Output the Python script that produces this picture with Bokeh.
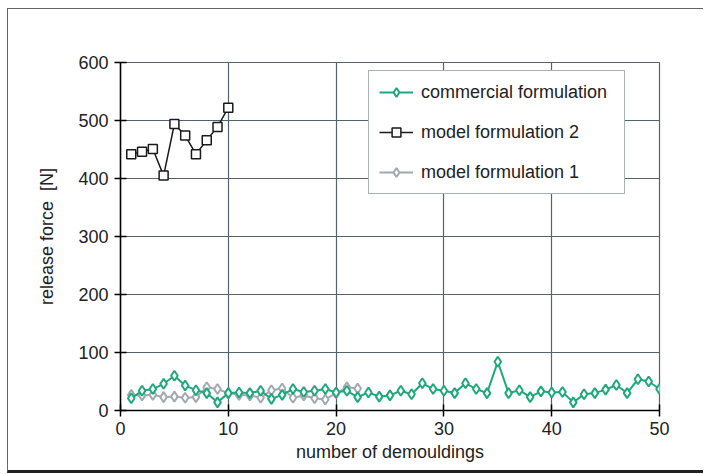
from bokeh.plotting import figure
from bokeh.models import Range1d, FixedTicker, Legend
from bokeh.embed import file_html
from bokeh.resources import INLINE

# data
x_comm = list(range(1, 51))
y_comm = [21, 34, 37, 46, 60, 43, 35, 30, 14, 30,
          31, 30, 34, 20, 27, 37, 32, 34, 37, 31,
          34, 23, 31, 24, 26, 34, 28, 47, 37, 34,
          30, 47, 37, 30, 84, 30, 35, 23, 33, 31,
          32, 14, 28, 30, 36, 44, 30, 54, 50, 37]
x_m2 = list(range(1, 11))
y_m2 = [442, 446, 451, 405, 494, 474, 442, 466, 489, 522]
x_m1 = list(range(1, 23))
y_m1 = [27, 26, 27, 23, 24, 22, 23, 40, 37, 30,
        27, 26, 22, 35, 38, 22, 26, 21, 19, 30, 40, 38]
x_ticks = [0, 10, 20, 30, 40, 50]
y_ticks = [0, 100, 200, 300, 400, 500, 600]

FONT = "Liberation Sans"
GREEN = "#1ea97a"
GRAY = "#a3a9b0"
BLACK = "#1a1a1a"
GRID = "#55646c"

p = figure(width=696, height=465, output_backend="svg", toolbar_location=None,
           x_range=Range1d(0, 50), y_range=Range1d(0, 600),
           min_border_left=112, min_border_right=45, min_border_top=53,
           min_border_bottom=64)
p.margin = (8, 0, 0, 7)
p.styles = {"border-left": "1px solid #666", "border-top": "1px solid #666",
            "border-bottom": "3px solid #222"}

p.outline_line_color = GRID
p.outline_line_width = 1.2

for ax, ticks in ((p.xaxis, x_ticks), (p.yaxis, y_ticks)):
    ax.ticker = FixedTicker(ticks=ticks)
    ax.axis_line_color = "black"
    ax.axis_line_width = 1.5
    ax.major_tick_line_color = "black"
    ax.major_tick_line_width = 1.5
    ax.major_tick_in = 6
    ax.major_tick_out = 6
    ax.minor_tick_line_color = None
    ax.major_label_text_font = FONT
    ax.major_label_text_font_size = "18px"
    ax.major_label_text_color = "#222222"
    ax.axis_label_text_font = FONT
    ax.axis_label_text_font_size = "18px"
    ax.axis_label_text_font_style = "normal"
    ax.axis_label_text_color = "#222222"

p.xaxis.axis_label = "number of demouldings"
p.yaxis.axis_label = "release force \u00a0[N]"
p.xaxis.major_label_standoff = 5
p.yaxis.major_label_standoff = 6
p.xaxis.axis_label_standoff = 4
p.yaxis.axis_label_standoff = 18

p.xgrid.ticker = FixedTicker(ticks=x_ticks)
p.ygrid.ticker = FixedTicker(ticks=y_ticks)
p.grid.grid_line_color = GRID
p.grid.grid_line_width = 1.2

# series
l1 = p.line(x_m1, y_m1, line_color=GRAY, line_width=2)
s1 = p.scatter(x_m1, y_m1, marker="diamond", size=10, line_color=GRAY,
               line_width=2, fill_color="white")
l3 = p.line(x_comm, y_comm, line_color=GREEN, line_width=2)
s3 = p.scatter(x_comm, y_comm, marker="diamond", size=10, line_color=GREEN,
               line_width=2, fill_color="white")
l2 = p.line(x_m2, y_m2, line_color=BLACK, line_width=1.5)
s2 = p.scatter(x_m2, y_m2, marker="square", size=9, line_color=BLACK,
               line_width=1.5, fill_color="white")

legend = Legend(items=[("commercial formulation", [l3, s3]),
                       ("model formulation 2", [l2, s2]),
                       ("model formulation 1", [l1, s1])],
                location=(248, 216))
legend.label_text_font = FONT
legend.label_text_font_size = "18px"
legend.label_text_color = "#222222"
legend.glyph_width = 34
legend.glyph_height = 22
legend.label_height = 22
legend.label_width = 193
legend.label_standoff = 8
legend.spacing = 18
legend.padding = 10
legend.margin = 0
legend.border_line_color = GRID
legend.border_line_width = 1.5
legend.background_fill_color = "white"
legend.background_fill_alpha = 1
p.add_layout(legend, "center")

open("out.html", "w").write(file_html(p, INLINE))
